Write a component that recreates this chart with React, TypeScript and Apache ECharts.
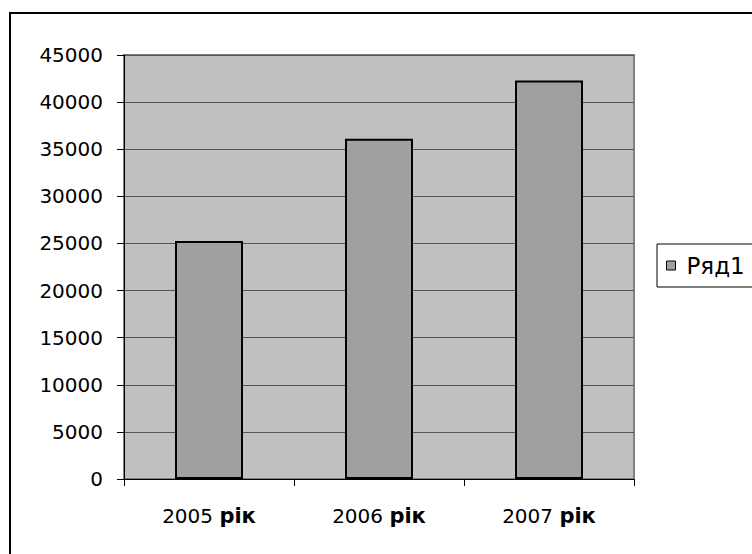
import React, { useEffect, useRef } from "react";
import * as echarts from "echarts";

const categories = ["2005", "2006", "2007"];
const categorySuffix = "рік";
const seriesName = "Ряд1";
const values = [25250, 36100, 42300];
const yTicks = { min: 0, max: 45000, interval: 5000 };

export default function App() {
  const ref = useRef<HTMLDivElement>(null);
  useEffect(() => {
    if (!ref.current) return;
    const chart = echarts.init(ref.current, null, { renderer: "svg" });
    const font = "DejaVu Sans";
    chart.setOption({
      animation: false,
      backgroundColor: "#ffffff",
      graphic: [
        {
          type: "rect",
          shape: { x: 10, y: 13, width: 800, height: 600 },
          style: { fill: "none", stroke: "#000", lineWidth: 2 },
          silent: true,
        },
      ],
      grid: {
        left: 124,
        top: 55,
        width: 510,
        height: 424,
        show: true,
        backgroundColor: "#C0C0C0",
        borderColor: "#808080",
        borderWidth: 2,
      },
      legend: {
        data: [seriesName],
        left: 657,
        top: 244,
        orient: "vertical",
        padding: [10, 60, 10, 9],
        backgroundColor: "#fff",
        borderColor: "#000",
        borderWidth: 1,
        icon: "rect",
        itemWidth: 9,
        itemHeight: 9,
        itemStyle: { color: "#A0A0A0", borderColor: "#000", borderWidth: 1 },
        textStyle: { fontFamily: font, fontSize: 23, color: "#000", padding: [0, 0, 0, 6] },
      },
      xAxis: {
        type: "category",
        data: categories,
        axisLine: { show: true, lineStyle: { color: "#000", width: 1 } },
        axisTick: { show: true, alignWithLabel: false, length: 7, lineStyle: { color: "#000" } },
        axisLabel: {
          interval: 0,
          margin: 26,
          fontFamily: font,
          fontSize: 20,
          color: "#000",
          formatter: (v: string) => `${v} {b|${categorySuffix}}`,
          rich: { b: { fontFamily: font, fontSize: 21, fontWeight: "bold", color: "#000" } },
        },
        splitLine: { show: false },
      },
      yAxis: {
        type: "value",
        min: yTicks.min,
        max: yTicks.max,
        interval: yTicks.interval,
        axisLine: { show: true, lineStyle: { color: "#000", width: 1 } },
        axisTick: { show: true, length: 7, lineStyle: { color: "#000" } },
        axisLabel: {
          margin: 21,
          fontFamily: font,
          fontSize: 20,
          color: "#000",
          formatter: (v: number) => String(v),
        },
        splitLine: { show: true, lineStyle: { color: "#555", width: 1 } },
      },
      series: [
        {
          type: "bar",
          name: seriesName,
          data: values,
          barWidth: "40%",
          itemStyle: { color: "#A0A0A0", borderColor: "#000", borderWidth: 2 },
        },
      ],
    });
    return () => chart.dispose();
  }, []);
  return (
    <div
      ref={ref}
      style={{ position: "absolute", left: 0, top: 0, width: 752, height: 554 }}
    />
  );
}
